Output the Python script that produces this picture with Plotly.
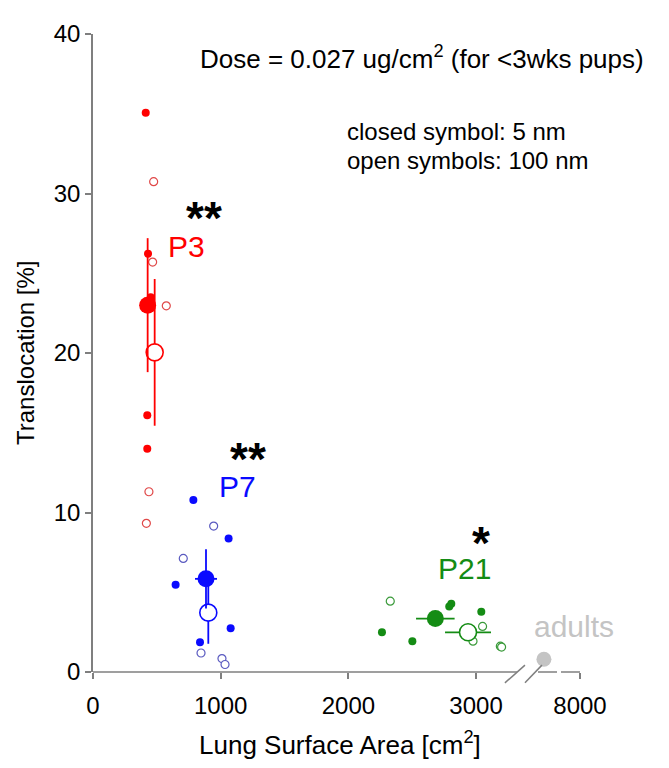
import plotly.graph_objects as go

# ---------------- data ----------------
p3_closed_x = [413, 431, 452, 425, 425]
p3_closed_y = [35.06, 26.23, 23.5, 16.1, 14.0]
p3_open_x = [475, 467, 574, 438, 418]
p3_open_y = [30.74, 25.7, 22.96, 11.3, 9.32]
p3_mean_closed = dict(x=428, y=23.0, sx=0, sy=4.2)
p3_mean_open = dict(x=483, y=20.04, sx=0, sy=4.6)

p7_closed_x = [786, 1062, 647, 1078, 838]
p7_closed_y = [10.78, 8.37, 5.47, 2.74, 1.87]
p7_open_x = [945, 707, 846, 1010, 1034]
p7_open_y = [9.15, 7.12, 1.19, 0.84, 0.47]
p7_mean_closed = dict(x=885, y=5.84, sx=86, sy=1.86)
p7_mean_open = dict(x=903, y=3.72, sx=0, sy=1.95)

p21_closed_x = [2806, 2790, 3041, 2263, 2501]
p21_closed_y = [4.28, 4.11, 3.77, 2.49, 1.93]
p21_open_x = [2328, 3051, 2976, 3190, 3200]
p21_open_y = [4.44, 2.86, 1.93, 1.62, 1.56]
p21_mean_closed = dict(x=2681, y=3.35, sx=151, sy=0)
p21_mean_open = dict(x=2937, y=2.49, sx=180, sy=0)

adults_x = [7100]
adults_y = [0.8]

x_tick_vals = [0, 1000, 2000, 3000, 8000]
x_tick_text = ["0", "1000", "2000", "3000", "8000"]
y_tick_vals = [0, 10, 20, 30, 40]

# broken axis: values beyond the break are compressed
BREAK_REAL = 7000
BREAK_DISP = 3500
BREAK_SCALE = 0.314


def disp(v):
    return v if v < 4000 else BREAK_DISP + (v - BREAK_REAL) * BREAK_SCALE


X_MAX = disp(8000)
Y_MAX = 40

RED, RED_O = "#ff0000", "#e04848"
BLUE, BLUE_O = "#0a0aff", "#5a5ac0"
GREEN, GREEN_O = "#148c14", "#3a9a3a"
GRAY = "#c4c4c4"
AXC = "#7f7f7f"
FONT = "Liberation Sans, Arial, sans-serif"

fig = go.Figure()


def small(xs, ys, color, open_=False):
    fig.add_trace(go.Scatter(
        x=[disp(v) for v in xs], y=ys, mode="markers", cliponaxis=False,
        marker=dict(size=8,
                    color="white" if open_ else color,
                    line=dict(width=1.2 if open_ else 0, color=color)),
        showlegend=False))


def mean(m, color, open_=False):
    fig.add_trace(go.Scatter(
        x=[disp(m["x"])], y=[m["y"]], mode="markers", cliponaxis=False,
        marker=dict(size=17, color="white" if open_ else color,
                    line=dict(width=1.6 if open_ else 0, color=color)),
        error_y=dict(type="constant", value=m["sy"], color=color, thickness=1.8,
                     width=0, visible=m["sy"] > 0),
        error_x=dict(type="constant", value=m["sx"], color=color, thickness=1.8,
                     width=0, visible=m["sx"] > 0),
        showlegend=False))


small(p3_open_x, p3_open_y, RED_O, True)
small(p3_closed_x, p3_closed_y, RED)
mean(p3_mean_open, RED, True)
mean(p3_mean_closed, RED)

small(p7_open_x, p7_open_y, BLUE_O, True)
small(p7_closed_x, p7_closed_y, BLUE)
mean(p7_mean_open, BLUE, True)
mean(p7_mean_closed, BLUE)

small(p21_open_x, p21_open_y, GREEN_O, True)
small(p21_closed_x, p21_closed_y, GREEN)
mean(p21_mean_closed, GREEN)
mean(p21_mean_open, GREEN, True)

fig.add_trace(go.Scatter(
    x=[disp(v) for v in adults_x], y=adults_y, mode="markers", cliponaxis=False,
    marker=dict(size=15, color=GRAY), showlegend=False))

# x axis line with break (paper coordinates so it is not clipped)
shapes = []
for x0, x1 in [(0, 3320), (3485, 3634), (3665, X_MAX)]:
    shapes.append(dict(type="line", xref="paper", yref="paper",
                       x0=x0 / X_MAX, x1=x1 / X_MAX, y0=0, y1=0,
                       line=dict(color=AXC, width=1.5)))
for x0, x1 in [(3226, 3383), (3383, 3516)]:
    shapes.append(dict(type="line", xref="paper", yref="paper",
                       x0=x0 / X_MAX, x1=x1 / X_MAX, y0=-0.68 / Y_MAX, y1=0.43 / Y_MAX,
                       line=dict(color=AXC, width=1.5)))

ann = []


def txt(x, y, s, color, size, anchor="center", bold=False):
    ann.append(dict(x=x, y=y, xref="x", yref="y", text=f"<b>{s}</b>" if bold else s,
                    showarrow=False, xanchor=anchor, yanchor="middle",
                    font=dict(family=FONT, size=size, color=color)))


txt(822, 38.5, "Dose = 0.027 ug/cm<sup>2</sup> (for <3wks pups)", "black", 26, "left")
txt(1973, 33.9, "closed symbol: 5 nm", "black", 24, "left")
txt(1973, 32.1, "open symbols: 100 nm", "black", 24, "left")
txt(869, 28.45, "**", "black", 46, bold=True)
txt(732, 26.65, "P3", RED, 30)
txt(1214, 13.35, "**", "black", 46, bold=True)
txt(1128, 11.6, "P7", BLUE, 30)
txt(3038, 8.1, "*", "black", 46, bold=True)
txt(2913, 6.5, "P21", GREEN, 30)
txt(3767, 2.85, "adults", GRAY, 30)

# page body has an 8px margin: plot area placed to match the reference
OFF = 8
L, T = 93 - OFF, 24 - OFF
W, H = 669 - OFF, 768 - OFF
PW, PH = 487, 648

ann.append(dict(x=(340 - 93) / PW, y=-(745 - 672) / PH, xref="paper", yref="paper",
                text="Lung Surface Area [cm<sup>2</sup>]", showarrow=False,
                xanchor="center", yanchor="middle",
                font=dict(family=FONT, size=26, color="black")))
ann.append(dict(x=-(93 - 25) / PW, y=(672 - 348) / PH, xref="paper", yref="paper",
                text="Translocation [%]", showarrow=False, textangle=-90,
                xanchor="center", yanchor="middle",
                font=dict(family=FONT, size=24, color="black")))

fig.update_layout(
    width=W, height=H,
    margin=dict(l=L, r=W - L - PW, t=T, b=H - T - PH),
    plot_bgcolor="white", paper_bgcolor="white",
    shapes=shapes, annotations=ann,
    font=dict(family=FONT, color="black"),
    xaxis=dict(range=[0, X_MAX], showline=False, showgrid=False, zeroline=False,
               tickvals=[disp(v) for v in x_tick_vals], ticktext=x_tick_text,
               ticks="outside", ticklen=6, tickcolor=AXC, tickwidth=1.5,
               ticklabelstandoff=6,
               tickfont=dict(family=FONT, size=24, color="black")),
    yaxis=dict(range=[0, Y_MAX], showline=True, linecolor=AXC, linewidth=1.5,
               showgrid=False, zeroline=False, tickvals=y_tick_vals,
               ticks="outside", ticklen=6, tickcolor=AXC, tickwidth=1.5,
               tickfont=dict(family=FONT, size=24, color="black")),
)

fig.write_html("out.html")
